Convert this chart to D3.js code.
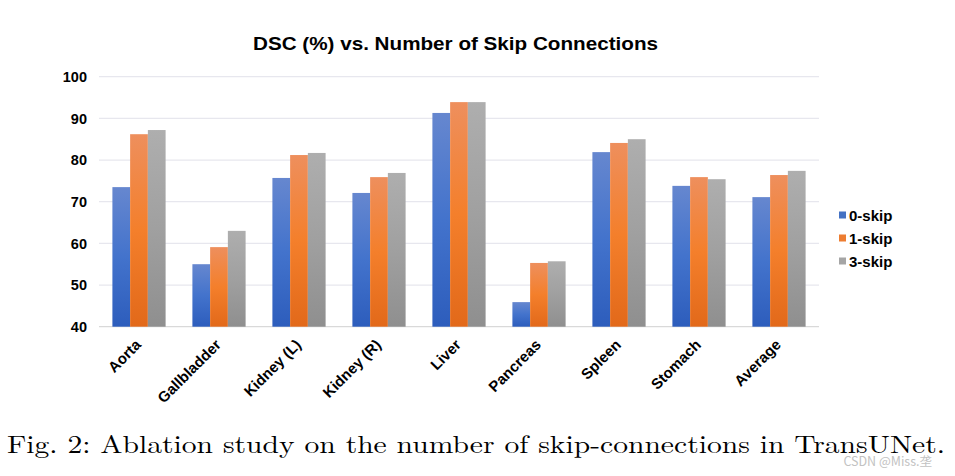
<!DOCTYPE html>
<html>
<head>
<meta charset="utf-8">
<script src="https://cdn.jsdelivr.net/npm/d3@7"></script>
<style>
html,body{margin:0;padding:0;background:#fff;}
svg{display:block;}
</style>
</head>
<body>
<svg id="chart" width="955" height="476"></svg>
<script>
const categories = ["Aorta","Gallbladder","Kidney (L)","Kidney (R)","Liver","Pancreas","Spleen","Stomach","Average"];
const seriesNames = ["0-skip","1-skip","3-skip"];
const skip0 = [73.5, 55.0, 75.7, 72.1, 91.3, 45.9, 81.9, 73.8, 71.1];
const skip1 = [86.2, 59.1, 81.2, 75.9, 93.9, 55.3, 84.1, 75.9, 76.4];
const skip3 = [87.2, 63.0, 81.7, 76.9, 93.9, 55.7, 85.0, 75.4, 77.4];
const yTicks = [40, 50, 60, 70, 80, 90, 100];
const titleText = "DSC (%) vs. Number of Skip Connections";
const captionText = "Fig. 2: Ablation study on the number of skip-connections in TransUNet.";
const watermarkText = "CSDN @Miss.垄";

const seriesValues = [skip0, skip1, skip3];
const gradStops = [
  ["#6687cf", "#4373cc", "#2d5dbc"],
  ["#ee8f5d", "#f47f2b", "#e2691a"],
  ["#aeaeae", "#a0a0a0", "#8f8f8f"]
];
const legendColors = ["#4472c4", "#ed7d31", "#a5a5a5"];
const sans = "Liberation Sans, Arial, Helvetica, sans-serif";

const svg = d3.select("#chart");
const margin = {left: 99, right: 136, top: 77, bottom: 149};
const W = 955, H = 476;
const x0 = d3.scaleBand().domain(categories).range([margin.left, W - margin.right]).paddingInner(0.335).paddingOuter(0.1675);
const x1 = d3.scaleBand().domain(seriesNames).range([0, x0.bandwidth()]);
const y = d3.scaleLinear().domain([40, 100]).range([326.7, 76.7]);

const defs = svg.append("defs");
seriesNames.forEach((s, i) => {
  const g = defs.append("linearGradient").attr("id", "g" + i)
    .attr("x1", 0).attr("y1", 0).attr("x2", 0).attr("y2", 1);
  g.append("stop").attr("offset", "0%").attr("stop-color", gradStops[i][0]);
  g.append("stop").attr("offset", "50%").attr("stop-color", gradStops[i][1]);
  g.append("stop").attr("offset", "100%").attr("stop-color", gradStops[i][2]);
});

// gridlines
svg.append("g").selectAll("line").data(yTicks).join("line")
  .attr("x1", margin.left).attr("x2", W - margin.right)
  .attr("y1", d => y(d)).attr("y2", d => y(d))
  .attr("stroke", d => d === 40 ? "#d9d9d9" : "#e7e7ee").attr("stroke-width", 1.2);

// y axis labels
const yAxis = d3.axisLeft(y).tickValues(yTicks).tickSize(0).tickPadding(12);
const yg = svg.append("g").attr("transform", `translate(${margin.left},0)`).call(yAxis);
yg.select(".domain").remove();
yg.selectAll("text").attr("font-family", sans)
  .attr("font-size", 14.5).attr("font-weight", "bold").attr("fill", "#000");

// bars
const groups = svg.append("g").selectAll("g").data(categories).join("g")
  .attr("transform", d => `translate(${x0(d)},0)`);
groups.selectAll("rect").data((c, ci) => seriesNames.map((s, si) => ({s, si, v: seriesValues[si][ci]})))
  .join("rect")
  .attr("x", d => x1(d.s))
  .attr("width", x1.bandwidth())
  .attr("y", d => y(d.v))
  .attr("height", d => y(40) - y(d.v))
  .attr("fill", d => `url(#g${d.si})`);

// x axis labels
const xAxis = d3.axisBottom(x0).tickSize(0).tickPadding(0);
const xg = svg.append("g").attr("transform", `translate(0,${y(40)})`).call(xAxis);
xg.select(".domain").remove();
xg.selectAll(".tick text")
  .attr("font-family", sans)
  .attr("font-size", 15).attr("font-weight", "bold").attr("fill", "#000")
  .attr("text-anchor", "end").attr("dy", 0).attr("y", 0)
  .attr("transform", "translate(3,19) rotate(-45)");

// title
svg.append("text").attr("x", 253).attr("y", 50)
  .attr("font-family", sans).attr("font-size", 18.5)
  .attr("font-weight", "bold").attr("fill", "#000")
  .attr("textLength", 405).attr("lengthAdjust", "spacingAndGlyphs").text(titleText);

// legend
const lg = svg.append("g").selectAll("g").data(seriesNames).join("g")
  .attr("transform", (d, i) => `translate(839,${215 + i * 23})`);
lg.append("rect").attr("x", 0).attr("y", -3.5).attr("width", 7).attr("height", 7)
  .attr("fill", (d, i) => legendColors[i]);
lg.append("text").attr("x", 10).attr("y", 5.5).text(d => d)
  .attr("font-family", sans).attr("font-size", 15)
  .attr("font-weight", "bold").attr("fill", "#000");

// caption
svg.append("text").attr("x", 7).attr("y", 453)
  .attr("font-family", "Latin Modern Roman, Liberation Serif, serif").attr("font-size", 25)
  .attr("fill", "#000").attr("textLength", 938).attr("lengthAdjust", "spacingAndGlyphs")
  .text(captionText);

// watermark
svg.append("text").attr("x", 932).attr("y", 466).attr("text-anchor", "end")
  .attr("font-family", "Noto Sans CJK SC, Liberation Sans, sans-serif").attr("font-size", 12.5)
  .attr("fill", "#c2c2c2").text(watermarkText);
</script>
</body>
</html>
